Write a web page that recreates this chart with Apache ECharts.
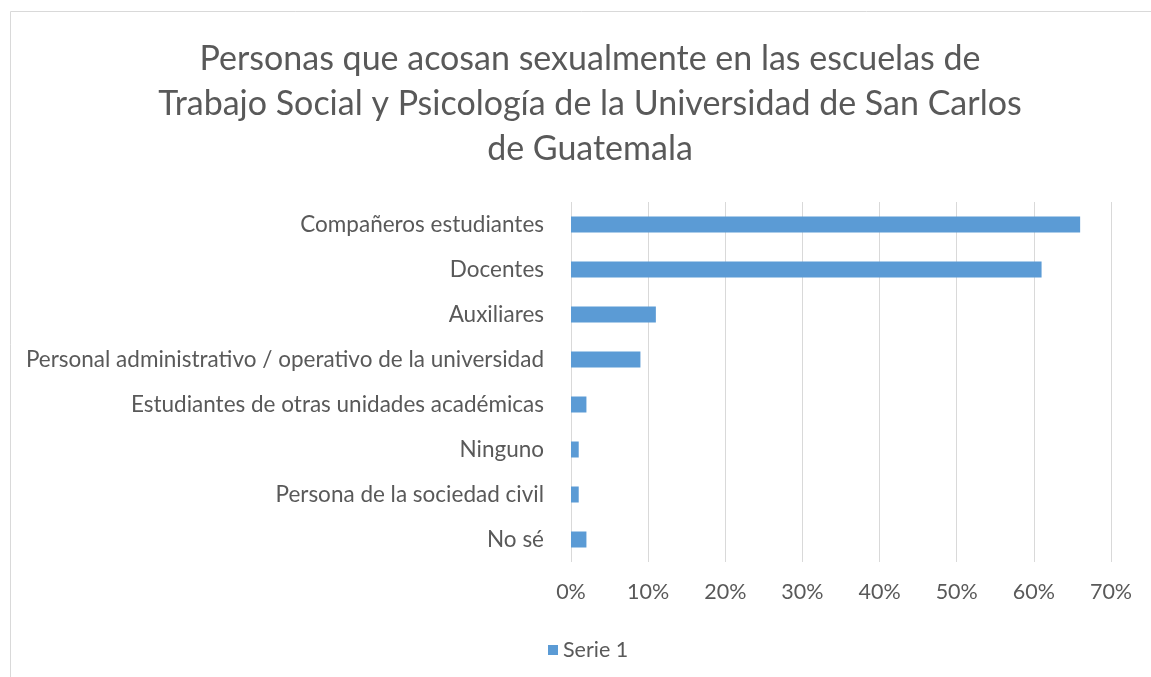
<!DOCTYPE html>
<html>
<head>
<meta charset="utf-8">
<script src="https://cdn.jsdelivr.net/npm/echarts@6/dist/echarts.min.js"></script>
<style>
  html, body { margin: 0; padding: 0; background: #fff; }
  #chart { width: 1151px; height: 677px; }
</style>
</head>
<body>
<div id="chart"></div>
<script>
// categorías (de arriba hacia abajo)
const categories = [
  "Compañeros estudiantes",
  "Docentes",
  "Auxiliares",
  "Personal administrativo / operativo de la universidad",
  "Estudiantes de otras unidades académicas",
  "Ninguno",
  "Persona de la sociedad civil",
  "No sé"
]
// porcentajes
const serie1 = [66, 61, 11, 9, 2, 1, 1, 2]
const seriesName = "Serie 1"
const titleText = "Personas que acosan sexualmente en las escuelas de\nTrabajo Social y Psicología de la Universidad de San Carlos\nde Guatemala"

const chart = echarts.init(document.getElementById("chart"))
const textColor = "#595959"
const font = "Lato, 'Open Sans', sans-serif"

chart.setOption({
  animation: false,
  graphic: [
    {
      type: "rect",
      shape: { x: 10.5, y: 11.5, width: 1200, height: 700 },
      style: { fill: "none", stroke: "#d9d9d9", lineWidth: 1 },
      silent: true
    }
  ],
  title: {
    text: titleText,
    left: 585,
    textAlign: "center",
    top: 32,
    textStyle: {
      color: textColor,
      fontSize: 34,
      fontWeight: "normal",
      fontFamily: font,
      lineHeight: 45
    }
  },
  legend: {
    data: [seriesName],
    left: 543,
    top: 634,
    icon: "rect",
    itemWidth: 10,
    itemHeight: 10,
    itemGap: 7,
    textStyle: { color: textColor, fontSize: 21.5, fontFamily: font }
  },
  grid: {
    left: 571,
    right: 40,
    top: 202,
    height: 360,
    containLabel: false
  },
  xAxis: {
    type: "value",
    min: 0,
    max: 70,
    interval: 10,
    axisLine: { show: false },
    axisTick: { show: false },
    axisLabel: {
      formatter: "{value}%",
      color: textColor,
      fontSize: 21.5,
      fontFamily: font,
      margin: 19
    },
    splitLine: { lineStyle: { color: "#d9d9d9", width: 1 } }
  },
  yAxis: {
    type: "category",
    data: categories,
    inverse: true,
    axisLine: { show: false },
    axisTick: { show: false },
    axisLabel: {
      color: textColor,
      fontSize: 22.5,
      fontFamily: font,
      margin: 27
    }
  },
  series: [
    {
      name: seriesName,
      type: "bar",
      data: serie1,
      barWidth: 16,
      itemStyle: { color: "#5b9bd5" }
    }
  ]
})
</script>
</body>
</html>
